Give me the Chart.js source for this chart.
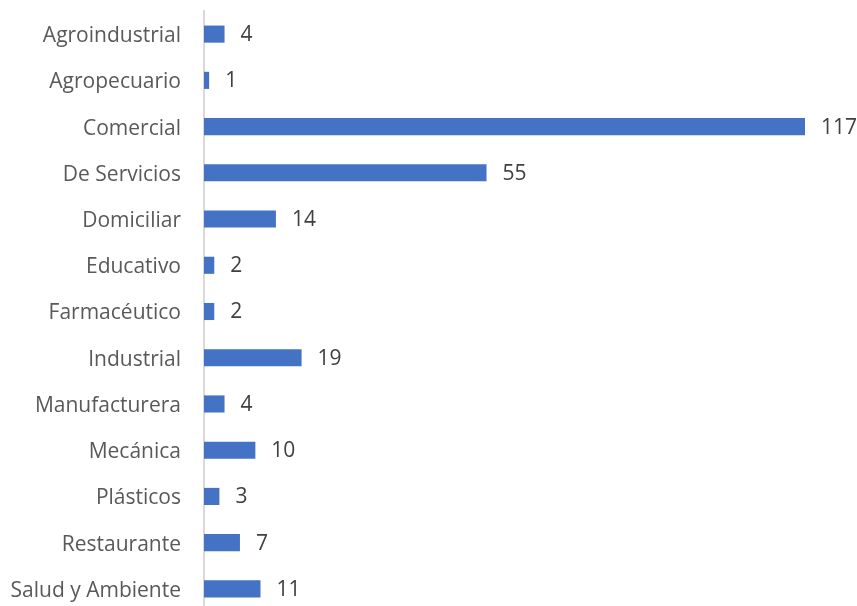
<!DOCTYPE html>
<html>
<head>
<meta charset="utf-8">
<script src="https://cdn.jsdelivr.net/npm/chart.js@4.4.0/dist/chart.umd.min.js"></script>
<style>
  html, body { margin: 0; padding: 0; background: #ffffff; overflow: hidden; }
  #wrap { position: relative; width: 857px; height: 606px; overflow: hidden; }
  #box { position: absolute; left: 0; top: 0; width: 857px; height: 613px; }
</style>
</head>
<body>
<div id="wrap"><div id="box"><canvas id="chart"></canvas></div></div>
<script>
const sectors = [
  'Agroindustrial', 'Agropecuario', 'Comercial', 'De Servicios', 'Domiciliar',
  'Educativo', 'Farmacéutico', 'Industrial', 'Manufacturera', 'Mecánica',
  'Plásticos', 'Restaurante', 'Salud y Ambiente'
];
const counts = [4, 1, 117, 55, 14, 2, 2, 19, 4, 10, 3, 7, 11];

const FONT = '"Open Sans", sans-serif';

// Writes each bar's count just past its end
const valueLabels = {
  id: 'valueLabels',
  afterDatasetsDraw(chart) {
    const ctx = chart.ctx;
    const meta = chart.getDatasetMeta(0);
    ctx.save();
    ctx.font = '21px ' + FONT;
    ctx.fillStyle = '#404040';
    ctx.textAlign = 'left';
    ctx.textBaseline = 'middle';
    meta.data.forEach((bar, i) => {
      ctx.fillText(String(counts[i]), bar.x + 16, bar.y + 1);
    });
    ctx.restore();
  }
};

new Chart(document.getElementById('chart'), {
  type: 'bar',
  data: {
    labels: sectors,
    datasets: [{
      data: counts,
      backgroundColor: '#4472c4',
      borderWidth: 0,
      categoryPercentage: 1,
      barPercentage: 0.37
    }]
  },
  options: {
    indexAxis: 'y',
    responsive: true,
    maintainAspectRatio: false,
    animation: false,
    layout: { padding: { top: 11, right: 52, bottom: 1, left: 0 } },
    plugins: { legend: { display: false }, tooltip: { enabled: false } },
    scales: {
      x: { display: false, min: 0, max: 117 },
      y: {
        grid: { display: false },
        border: { display: true, color: '#d9d9d9', width: 2 },
        ticks: {
          color: '#595959',
          font: { family: FONT, size: 21 },
          padding: 15,
          labelOffset: 2
        },
        afterFit(scale) {
          scale.width = 204;
          scale.paddingTop = 0;
          scale.paddingBottom = 0;
        }
      }
    }
  },
  plugins: [valueLabels]
});
</script>
</body>
</html>
